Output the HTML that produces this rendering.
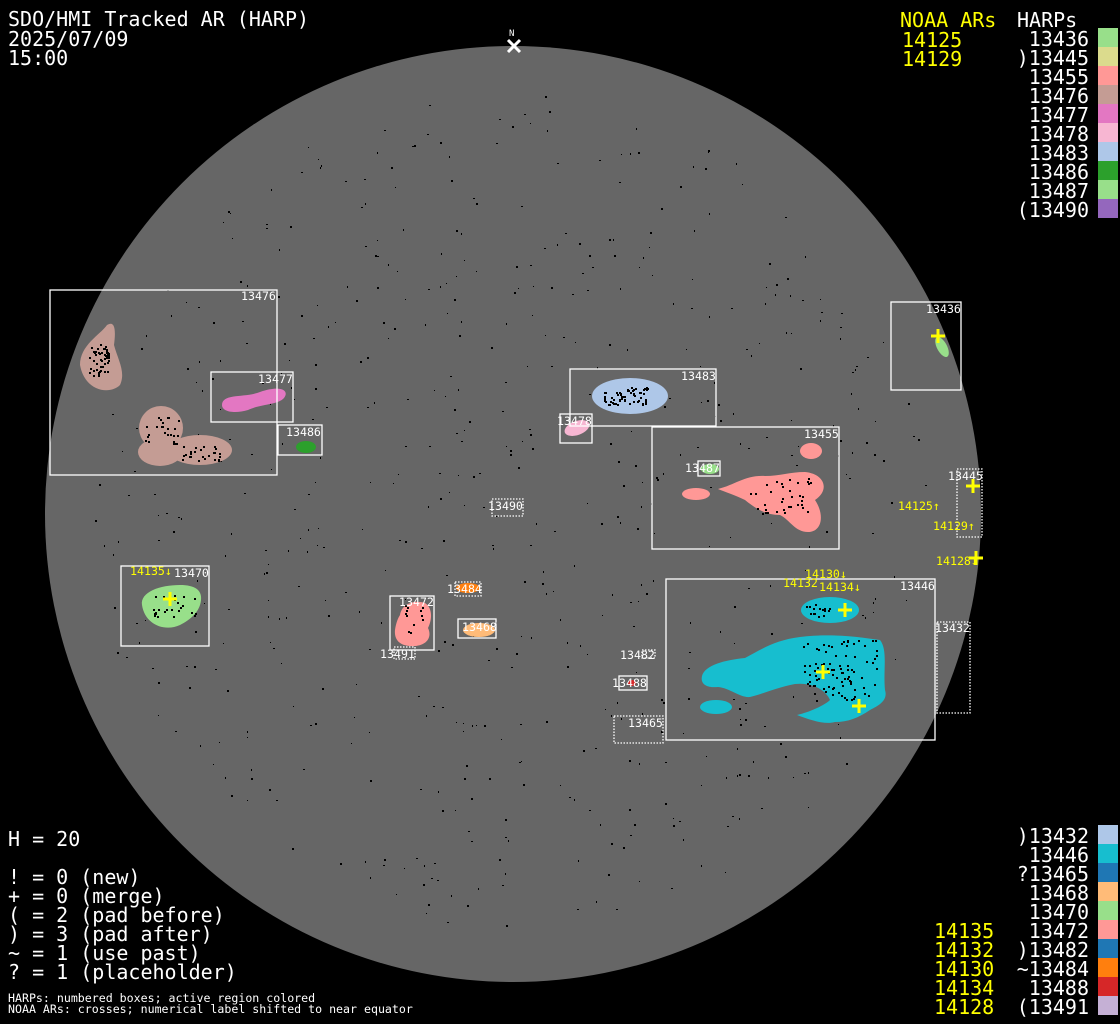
<!DOCTYPE html>
<html><head><meta charset="utf-8"><style>
html,body{margin:0;padding:0;background:#000;}
svg{display:block}
text{font-family:"DejaVu Sans Mono","Liberation Mono",monospace;}
.b{font-size:20px;fill:#fff}
.y{font-size:20px;fill:#ff0}
.s{font-size:11.6px;fill:#fff}
.sy{font-size:11.6px;fill:#ff0}
.bx{fill:none;stroke:#fff;stroke-width:1.3}
.dt{fill:none;stroke:#fff;stroke-width:1.3;stroke-dasharray:1.5 1.5}
.cr{stroke:#ff0;stroke-width:3}
</style></head><body>
<svg width="1120" height="1024" viewBox="0 0 1120 1024" xmlns="http://www.w3.org/2000/svg">
<rect width="1120" height="1024" fill="#000"/>
<circle cx="513" cy="514" r="468" fill="#666"/>
<g id="dots" fill="#000"></g>

<text x="509" y="36" class="s" style="font-size:9px">N</text>
<path d="M508 40 L520 52 M520 40 L508 52" stroke="#fff" stroke-width="3"/>

<path d="M80 365 C80 345 100 335 107 325 C115 320 116 330 114 345 C118 360 126 372 120 385 C110 395 85 392 80 365 Z" fill="#c49c94"/>
<circle cx="161" cy="428" r="22" fill="#c49c94"/>
<ellipse cx="200" cy="450" rx="32" ry="15" fill="#c49c94"/>
<ellipse cx="160" cy="452" rx="22" ry="14" fill="#c49c94"/>
<path d="M222 405 C222 393 245 398 260 392 C280 385 290 390 284 398 C278 405 260 404 248 410 C235 414 222 412 222 405 Z" fill="#e377c2"/>
<ellipse cx="306" cy="447" rx="10" ry="6" fill="#2ca02c"/>
<ellipse cx="630" cy="396" rx="38" ry="18" fill="#aec7e8"/>
<ellipse cx="577" cy="428" rx="13" ry="7" transform="rotate(-20 577 428)" fill="#f7b6d2"/>
<ellipse cx="811" cy="451" rx="11" ry="8" fill="#ff9896"/>
<ellipse cx="696" cy="494" rx="14" ry="6" fill="#ff9896"/>
<path d="M718 489 C735 485 745 475 765 476 C780 476 790 472 805 472 C825 474 830 490 815 500 C825 515 822 532 808 532 C795 532 790 520 780 515 C765 515 755 508 745 500 C735 495 725 492 718 489 Z" fill="#ff9896"/>
<ellipse cx="710" cy="469" rx="9" ry="5" fill="#98df8a"/>
<ellipse cx="942" cy="347" rx="5" ry="11" transform="rotate(-28 942 347)" fill="#98df8a"/>
<ellipse cx="830" cy="610" rx="29" ry="13" fill="#17becf"/>
<ellipse cx="716" cy="707" rx="16" ry="7" fill="#17becf"/>
<path d="M702 676 C705 665 725 660 745 658 C760 650 775 640 800 637 C830 633 860 637 880 640 C888 650 883 670 885 690 C888 700 880 705 870 710 C858 718 848 722 835 722 C825 725 810 720 797 715 C810 712 825 705 830 700 C826 690 812 682 795 684 C775 688 760 695 750 697 C740 698 730 688 718 687 C708 688 700 685 702 676 Z" fill="#17becf"/>
<path d="M142 605 C140 592 160 585 180 585 C195 585 202 590 201 600 C200 612 190 620 180 625 C165 632 145 625 142 605 Z" fill="#98df8a"/>
<path d="M400 615 C402 603 415 600 425 603 C433 608 432 620 428 628 C432 636 428 645 415 646 C400 647 394 640 395 630 C396 623 398 618 400 615 Z" fill="#ff9896"/>
<ellipse cx="468" cy="588" rx="12" ry="5" fill="#ff7f0e"/>
<ellipse cx="479" cy="630" rx="16" ry="7" fill="#ffbb78"/>
<ellipse cx="632" cy="683" rx="4" ry="3" fill="#d62728"/>
<g id="spots" fill="#000"></g>

<rect x="50" y="290" width="227" height="185" class="bx"/>
<text x="241" y="300" class="s">13476</text>
<rect x="211" y="372" width="82" height="50" class="bx"/>
<text x="258" y="383" class="s">13477</text>
<rect x="278" y="425" width="44" height="30" class="bx"/>
<text x="286" y="436" class="s">13486</text>
<rect x="570" y="369" width="146" height="57" class="bx"/>
<text x="681" y="380" class="s">13483</text>
<rect x="560" y="414" width="32" height="29" class="bx"/>
<text x="557" y="425" class="s">13478</text>
<rect x="652" y="427" width="187" height="122" class="bx"/>
<text x="804" y="438" class="s">13455</text>
<rect x="698" y="461" width="22" height="15" class="bx"/>
<text x="685" y="472" class="s">13487</text>
<rect x="891" y="302" width="70" height="88" class="bx"/>
<text x="926" y="313" class="s">13436</text>
<path d="M931 336 L945 336 M938 329 L938 343" class="cr"/>
<rect x="957" y="469" width="25" height="68" class="dt"/>
<text x="948" y="480" class="s">13445</text>
<path d="M966 486 L980 486 M973 479 L973 493" class="cr"/>
<text x="898" y="510" class="sy">14125↑</text>
<text x="933" y="530" class="sy">14129↑</text>
<text x="936" y="565" class="sy">14128↓</text>
<path d="M969 558 L983 558 M976 551 L976 565" class="cr"/>
<rect x="666" y="579" width="269" height="161" class="bx"/>
<text x="900" y="590" class="s">13446</text>
<text x="805" y="578" class="sy">14130↓</text>
<text x="783" y="587" class="sy">14132</text>
<text x="819" y="591" class="sy">14134↓</text>
<path d="M838 610 L852 610 M845 603 L845 617" class="cr"/>
<path d="M816 672 L830 672 M823 665 L823 679" class="cr"/>
<path d="M852 706 L866 706 M859 699 L859 713" class="cr"/>
<rect x="937" y="622" width="33" height="91" class="dt"/>
<text x="935" y="632" class="s">13432</text>
<rect x="121" y="566" width="88" height="80" class="bx"/>
<text x="130" y="575" class="sy">14135↓</text>
<text x="174" y="577" class="s">13470</text>
<path d="M163 599 L177 599 M170 592 L170 606" class="cr"/>
<rect x="390" y="596" width="44" height="54" class="bx"/>
<text x="399" y="606" class="s">13472</text>
<rect x="394" y="647" width="21" height="12" class="dt"/>
<text x="380" y="658" class="s">13491</text>
<rect x="455" y="582" width="26" height="14" class="dt"/>
<text x="447" y="593" class="s">13484</text>
<rect x="458" y="619" width="38" height="19" class="bx"/>
<text x="462" y="631" class="s">13468</text>
<rect x="492" y="499" width="31" height="17" class="dt"/>
<text x="488" y="510" class="s">13490</text>
<rect x="642" y="650" width="13" height="8" class="dt"/>
<text x="620" y="659" class="s">13482</text>
<rect x="619" y="676" width="28" height="14" class="bx"/>
<text x="612" y="687" class="s">13488</text>
<rect x="614" y="716" width="49" height="27" class="dt"/>
<text x="628" y="727" class="s">13465</text>

<text x="8" y="26" class="b">SDO/HMI Tracked AR (HARP)</text>
<text x="8" y="46" class="b">2025/07/09</text>
<text x="8" y="65" class="b">15:00</text>

<text x="900" y="27" class="y">NOAA ARs</text>
<text x="902" y="47" class="y">14125</text>
<text x="902" y="66" class="y">14129</text>
<text x="1017" y="27" class="b">HARPs</text>
<g text-anchor="end">
<text x="1089" y="46" class="b">13436</text>
<text x="1089" y="65" class="b">)13445</text>
<text x="1089" y="84" class="b">13455</text>
<text x="1089" y="103" class="b">13476</text>
<text x="1089" y="122" class="b">13477</text>
<text x="1089" y="141" class="b">13478</text>
<text x="1089" y="160" class="b">13483</text>
<text x="1089" y="179" class="b">13486</text>
<text x="1089" y="198" class="b">13487</text>
<text x="1089" y="217" class="b">(13490</text>
</g>
<rect x="1098" y="28" width="20" height="19" fill="#98df8a"/>
<rect x="1098" y="47" width="20" height="19" fill="#dbdb8d"/>
<rect x="1098" y="66" width="20" height="19" fill="#ff9896"/>
<rect x="1098" y="85" width="20" height="19" fill="#c49c94"/>
<rect x="1098" y="104" width="20" height="19" fill="#e377c2"/>
<rect x="1098" y="123" width="20" height="19" fill="#f7b6d2"/>
<rect x="1098" y="142" width="20" height="19" fill="#aec7e8"/>
<rect x="1098" y="161" width="20" height="19" fill="#2ca02c"/>
<rect x="1098" y="180" width="20" height="19" fill="#98df8a"/>
<rect x="1098" y="199" width="20" height="19" fill="#9467bd"/>

<g text-anchor="end">
<text x="1089" y="843" class="b">)13432</text>
<text x="1089" y="862" class="b">13446</text>
<text x="1089" y="881" class="b">?13465</text>
<text x="1089" y="900" class="b">13468</text>
<text x="1089" y="919" class="b">13470</text>
<text x="1089" y="938" class="b">13472</text>
<text x="1089" y="957" class="b">)13482</text>
<text x="1089" y="976" class="b">~13484</text>
<text x="1089" y="995" class="b">13488</text>
<text x="1089" y="1014" class="b">(13491</text>
</g>
<text x="934" y="938" class="y">14135</text>
<text x="934" y="957" class="y">14132</text>
<text x="934" y="976" class="y">14130</text>
<text x="934" y="995" class="y">14134</text>
<text x="934" y="1014" class="y">14128</text>
<rect x="1098" y="825" width="20" height="19" fill="#aec7e8"/>
<rect x="1098" y="844" width="20" height="19" fill="#17becf"/>
<rect x="1098" y="863" width="20" height="19" fill="#1f77b4"/>
<rect x="1098" y="882" width="20" height="19" fill="#ffbb78"/>
<rect x="1098" y="901" width="20" height="19" fill="#98df8a"/>
<rect x="1098" y="920" width="20" height="19" fill="#ff9896"/>
<rect x="1098" y="939" width="20" height="19" fill="#1f77b4"/>
<rect x="1098" y="958" width="20" height="19" fill="#ff7f0e"/>
<rect x="1098" y="977" width="20" height="19" fill="#d62728"/>
<rect x="1098" y="996" width="20" height="19" fill="#c5b0d5"/>

<text x="8" y="846" class="b">H = 20</text>
<text x="8" y="884" class="b">! = 0 (new)</text>
<text x="8" y="903" class="b">+ = 0 (merge)</text>
<text x="8" y="922" class="b">( = 2 (pad before)</text>
<text x="8" y="941" class="b">) = 3 (pad after)</text>
<text x="8" y="960" class="b">~ = 1 (use past)</text>
<text x="8" y="979" class="b">? = 1 (placeholder)</text>
<text x="8" y="1002" class="s">HARPs: numbered boxes; active region colored</text>
<text x="8" y="1013" class="s">NOAA ARs: crosses; numerical label shifted to near equator</text>
</svg>
<script>
(function(){
var s=12345;function r(){s=(s*1103515245+12345)%2147483648;return s/2147483648;}
var h='';for(var i=0;i<600;i++){var a=r()*6.2832,d=Math.sqrt(r())*420;var x=513+d*Math.cos(a),y=514+d*Math.sin(a);
var w=1+Math.floor(r()*2),hh=1+Math.floor(r()*2);h+='<rect x="'+x.toFixed(0)+'" y="'+y.toFixed(0)+'" width="'+w+'" height="'+hh+'"/>';}
document.getElementById('dots').innerHTML=h;
h='';
var sp=[[98,360,10,16,50],[162,430,18,16,25],[200,452,20,8,25],[625,396,22,9,60],[780,495,30,18,35],[840,670,38,30,90],[815,610,15,6,15],[175,605,22,12,25],[414,620,10,15,12]];
sp.forEach(function(c){for(var i=0;i<c[4];i++){var x=c[0]+(r()*2-1)*c[2],y=c[1]+(r()*2-1)*c[3];h+='<rect x="'+x.toFixed(0)+'" y="'+y.toFixed(0)+'" width="2" height="2"/>';}});
document.getElementById('spots').innerHTML=h;})();
</script>
</body></html>
